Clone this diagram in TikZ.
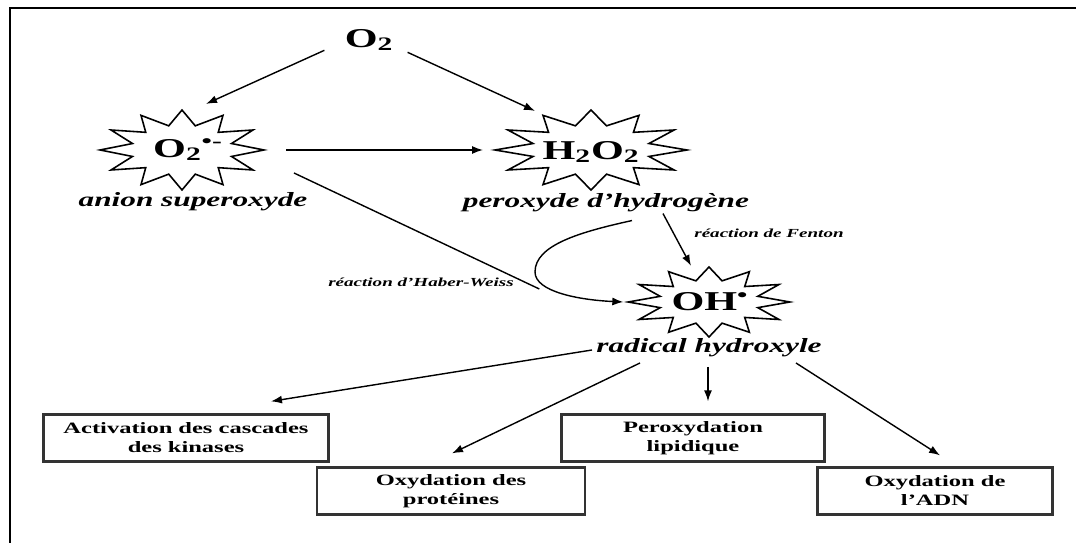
\documentclass[tikz,border=0pt]{standalone}
\usepackage{fontspec}
\setmainfont{Liberation Serif}[FakeStretch=1.55]
\usepackage{tikz}
\usetikzlibrary{arrows.meta,positioning,calc,shapes.geometric}

\begin{document}
\begin{tikzpicture}[
  x=0.02cm,y=-0.02cm,
  burst/.style={star,star points=12,star point ratio=1.6,draw,line width=0.9pt,inner sep=0pt,transform shape},
  formula/.style={font=\fontsize{15.5}{18}\selectfont\bfseries,inner sep=0pt},
  species/.style={font=\fontsize{11.5}{13}\selectfont\bfseries\itshape,inner sep=0pt},
  reaction/.style={font=\fontsize{7}{8.5}\selectfont\bfseries\itshape,inner sep=0pt},
  effect/.style={draw=black!80,line width=1.3pt,align=center,minimum height=0.94cm,inner sep=2pt,font=\fontsize{9}{10.8}\selectfont\bfseries},
  arrow/.style={-{Latex[length=2.2mm,width=1.6mm]},line width=0.8pt},
  link/.style={line width=0.8pt}
]
\useasboundingbox (0,0) rectangle (1076,543);
\draw[line width=1.2pt] (10,543) -- (10,8) -- (1076,8);

\node[formula] (o2) at (369,40) {O\textsubscript{2}};
\begin{scope}[shift={(182,150)},xscale=2.05]
  \node[burst,minimum size=1.6cm] (s1) at (0,0) {};
\end{scope}
\begin{scope}[shift={(591,150)},xscale=2.4]
  \node[burst,minimum size=1.6cm] (s2) at (0,0) {};
\end{scope}
\begin{scope}[shift={(709,302)},xscale=2.31]
  \node[burst,minimum size=1.4cm] (s3) at (0,0) {};
\end{scope}
\node[formula] (superoxyde) at ($(s1.center)+(6,0)$) {O\textsubscript{2}\textsuperscript{•-}};
\node[formula] (peroxyde) at ($(s2.center)+(0,2)$) {H\textsubscript{2}O\textsubscript{2}};
\node[formula] (hydroxyle) at ($(s3.center)+(1,0)$) {OH\textsuperscript{•}};

\node[species] (lbl1) at (193,202) {anion superoxyde};
\node[species] (lbl2) at (606,203) {peroxyde d’hydrogène};
\node[species] (lbl3) at (709,348) {radical hydroxyle};
\node[reaction] (fenton) at (769,233) {réaction de Fenton};
\node[reaction] (haber) at (421,282) {réaction d’Haber-Weiss};

\node[effect,minimum width=5.7cm] (box1) at (186,438) {Activation des cascades\\des kinases};
\node[effect,minimum width=5.36cm] (box2) at (451,491) {Oxydation des\\protéines};
\node[effect,minimum width=5.26cm] (box3) at (693,438) {Peroxydation\\lipidique};
\node[effect,minimum width=4.7cm] (box4) at (935,491) {Oxydation de\\l’ADN};

\coordinate (merge) at ($(s3.west)+(-84,-13)$);

\draw[arrow] ($(o2.south west)+(-20,-1)$) -- ($(s1.north)+(24,-4)$);
\draw[arrow] ($(o2.south east)+(14,1)$) -- ($(s2.north)+(-56,3)$);
\draw[arrow,shorten <=0.36cm,shorten >=0.14cm] (s1.east) -- (s2.west);
\draw[link] ($(s1.center)+(112,23)$) -- (merge);
\draw[arrow] ($(lbl2.south)+(26,8)$) .. controls (580,232) and (535,245) .. (535,272)
  .. controls (535,292) and (580,300) .. (s3.west);
\draw[arrow] ($(lbl2.south)+(57,1)$) -- ($(s3.north)+(-18,1)$);
\draw[arrow] ($(lbl3.center)+(-117,2)$) -- ($(box1.north)+(85,-12)$);
\draw[arrow] ($(lbl3.center)+(-69,15)$) -- ($(box2.north)+(1,-13)$);
\draw[arrow] ($(lbl3.center)+(-1,19)$) -- ($(box3.north)+(15,-12)$);
\draw[arrow] ($(lbl3.center)+(87,15)$) -- ($(box4.north)+(5,-11)$);
\end{tikzpicture}
\end{document}
